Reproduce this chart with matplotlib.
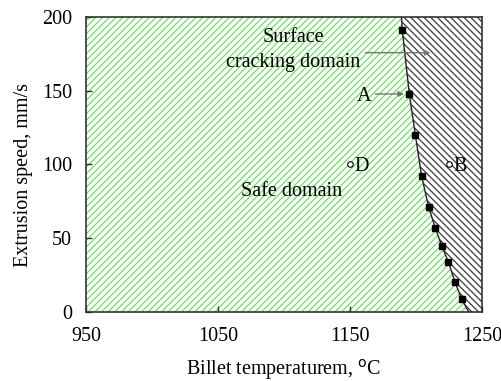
import matplotlib
matplotlib.use("Agg")
import matplotlib.pyplot as plt
import numpy as np

# critical speed measured at each billet temperature
temp_pts = [1189.6, 1194.9, 1199.5, 1204.3, 1209.6, 1214.6, 1219.4, 1224.5, 1229.5, 1234.6]
speed_pts = [191, 148, 120, 92, 71, 57, 45, 34, 20.5, 8.6]

# boundary curve between safe and cracking domains
bound_temp = [1189.0, 1189.6, 1194.9, 1199.5, 1204.3, 1209.6, 1214.6, 1219.4, 1224.5, 1229.5, 1234.6, 1240.0]
bound_speed = [200, 191, 148, 120, 92, 71, 57, 45, 34, 20.5, 8.6, 0]

# test conditions B and D
cond_names = ["D", "B"]
cond_temp = [1150, 1225]
cond_speed = [100, 100]

x_ticks = [950, 1050, 1150, 1250]
y_ticks = [0, 50, 100, 150, 200]

plt.rcParams['font.family'] = ['Liberation Serif', 'DejaVu Serif']
plt.rcParams['hatch.linewidth'] = 0.9
fs = 14.5

fig = plt.figure(figsize=(5.01, 3.81), dpi=100)
ax = fig.add_axes([0.1717, 0.1811, 0.7904, 0.7743])

bt = np.array(bound_temp)
bs = np.array(bound_speed)
ax.fill_betweenx(bs, 950, bt, facecolor='none', edgecolor='#72dc68', hatch='/////', linewidth=0)
ax.fill_betweenx(bs, bt, 1250, facecolor='none', edgecolor='#3a3a3a', hatch='\\\\\\\\\\', linewidth=0)
ax.plot(bt, bs, color='#222222', lw=1.0)
ax.plot(temp_pts, speed_pts, 's', color='black', ms=5, zorder=5)
ax.plot(cond_temp, cond_speed, 'o', mfc='white', mec='black', ms=4, mew=0.8, zorder=5)
for name, t, s in zip(cond_names, cond_temp, cond_speed):
    ax.text(t + 3.5, s - 1.5, name, fontsize=fs, va='center', ha='left')

ax.text(1107, 186, "Surface", fontsize=fs, ha='center', va='center')
ax.text(1107, 169, "cracking domain", fontsize=fs, ha='center', va='center')
ax.annotate("", xy=(1213, 175.8), xytext=(1159.5, 175.8),
            arrowprops=dict(arrowstyle='-|>', color='#777777', lw=1.0, mutation_scale=8))
ax.text(1160.5, 146, "A", fontsize=fs, ha='center', va='center')
ax.annotate("", xy=(1193, 147.8), xytext=(1167, 147.8),
            arrowprops=dict(arrowstyle='-|>', color='#777777', lw=1.0, mutation_scale=8))
ax.text(1106, 81.5, "Safe domain", fontsize=fs, ha='center', va='center')

ax.set_xlim(950, 1250)
ax.set_ylim(0, 200)
ax.set_xticks(x_ticks)
ax.set_yticks(y_ticks)
ax.tick_params(direction='in', length=4, width=1, labelsize=fs, color='#333333')
ax.tick_params(axis='x', pad=11)
ax.tick_params(axis='y', pad=10)
for sp in ax.spines.values():
    sp.set_linewidth(1.2)
    sp.set_color('#333333')
ax.set_xlabel("Billet temperaturem, $^{\\mathrm{o}}$C", fontsize=fs, labelpad=8)
ax.set_ylabel("Extrusion speed, mm/s", fontsize=fs)
ax.yaxis.set_label_coords(-0.135, 0.464)

fig.savefig("out.png", dpi=100)
